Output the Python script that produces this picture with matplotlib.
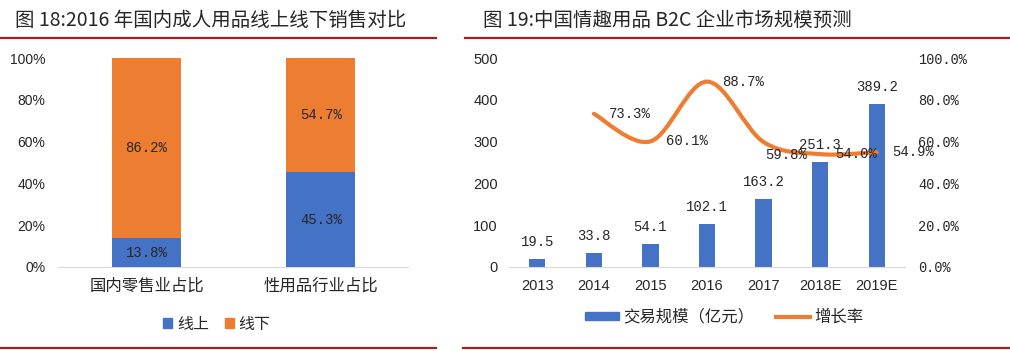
import matplotlib
matplotlib.use("Agg")
import matplotlib.pyplot as plt
from matplotlib.path import Path
from matplotlib.patches import PathPatch, Rectangle
from matplotlib.lines import Line2D
import numpy as np

# ---------------- data ----------------
title_left = "图 18:2016 年国内成人用品线上线下销售对比"
title_right = "图 19:中国情趣用品 B2C 企业市场规模预测"

left_categories = ["国内零售业占比", "性用品行业占比"]
online_share = [13.8, 45.3]
offline_share = [86.2, 54.7]
left_series_names = ["线上", "线下"]
left_yticks = [0, 20, 40, 60, 80, 100]

years = ["2013", "2014", "2015", "2016", "2017", "2018E", "2019E"]
market_size = [19.5, 33.8, 54.1, 102.1, 163.2, 251.3, 389.2]
growth_years_idx = [1, 2, 3, 4, 5, 6]
growth_rate = [73.3, 60.1, 88.7, 59.8, 54.0, 54.9]
right_series_names = ["交易规模（亿元）", "增长率"]
left_axis_ticks = [0, 100, 200, 300, 400, 500]
right_axis_ticks = [0, 20, 40, 60, 80, 100]

# label offsets (points) for growth labels, as placed in the reference
growth_label_offsets = [(11, 0), (11, 0), (11, 0), (1, -9.5), (11, 0), (11, 0)]

# ---------------- style ----------------
BLUE = "#4472C4"
ORANGE = "#ED7D31"
RED = "#A31F24"
TXT = "#262626"
CJK = ["Noto Sans CJK SC", "DejaVu Sans"]
MONO = ["Liberation Mono", "DejaVu Sans Mono"]
SANS = ["Liberation Sans", "DejaVu Sans"]

W, H = 1010, 351
fig = plt.figure(figsize=(W / 100, H / 100), dpi=100)
fig.patch.set_facecolor("white")


def px_axes(x0, y0, x1, y1):
    return fig.add_axes([x0 / W, 1 - y1 / H, (x1 - x0) / W, (y1 - y0) / H])


# header/footer red rules
for (xa, xb) in [(0, 436), (465, 1010)]:
    fig.add_artist(Line2D([xa / W, xb / W], [1 - 37.5 / H] * 2, color=RED, lw=1.6))
for (xa, xb) in [(0, 436), (463, 1010)]:
    fig.add_artist(Line2D([xa / W, xb / W], [1 - 348 / H] * 2, color=RED, lw=1.6))

fig.text(15 / W, 1 - 20 / H, title_left, family=CJK, fontsize=14, color=TXT, va="center", ha="left")
fig.text(483 / W, 1 - 20 / H, title_right, family=CJK, fontsize=14, color=TXT, va="center", ha="left")

# ---------------- left chart ----------------
ax = px_axes(58, 58, 408, 267)
x = np.arange(len(left_categories))
bw = 0.395
ax.bar(x, online_share, width=bw, color=BLUE, zorder=3)
ax.bar(x, offline_share, width=bw, bottom=online_share, color=ORANGE, zorder=3)
for i in range(len(x)):
    ax.text(x[i], online_share[i] / 2, f"{online_share[i]:.1f}%", ha="center", va="center",
            family=MONO, fontsize=10, color=TXT, zorder=4)
    ax.text(x[i], online_share[i] + offline_share[i] / 2, f"{offline_share[i]:.1f}%", ha="center",
            va="center", family=MONO, fontsize=10, color=TXT, zorder=4)
ax.set_xlim(-0.507, 1.499)
ax.set_ylim(0, 100)
ax.set_yticks(left_yticks)
ax.set_yticklabels([f"{v}%" for v in left_yticks], family=SANS, fontsize=10, color=TXT)
ax.set_xticks(x)
ax.set_xticklabels(left_categories, family=CJK, fontsize=11.8, color=TXT)
ax.tick_params(axis="y", length=0, pad=9)
ax.tick_params(axis="x", length=0, pad=8)
for s in ["top", "right", "left"]:
    ax.spines[s].set_visible(False)
ax.spines["bottom"].set_color("#D9D9D9")
handles = [Rectangle((0, 0), 1, 1, color=BLUE), Rectangle((0, 0), 1, 1, color=ORANGE)]
fig.legend(handles, left_series_names, loc="center", bbox_to_anchor=(217 / W, 1 - 324 / H),
           ncol=2, frameon=False, prop={"family": CJK, "size": 11.5}, handlelength=0.55,
           handleheight=0.55, handletextpad=0.3, columnspacing=1.0, labelcolor=TXT)

# ---------------- right chart ----------------
axr = px_axes(509, 58, 905, 267)
xr = np.arange(len(years))
axr.bar(xr, market_size, width=0.29, color=BLUE, zorder=2)
for i in range(len(xr)):
    axr.text(xr[i], market_size[i] + 24, f"{market_size[i]:.1f}", ha="center", va="bottom",
             family=MONO, fontsize=10, color=TXT, zorder=5)
axr.set_xlim(-0.5, len(years) - 0.5)
axr.set_ylim(0, 500)
axr.set_yticks(left_axis_ticks)
axr.set_yticklabels([str(v) for v in left_axis_ticks], family=SANS, fontsize=10.5, color=TXT)
axr.set_xticks(xr)
axr.set_xticklabels(years, family=SANS, fontsize=10.5, color=TXT)
axr.tick_params(axis="y", length=0, pad=8)
axr.tick_params(axis="x", length=0, pad=9)
for s in ["top", "right", "left"]:
    axr.spines[s].set_visible(False)
axr.spines["bottom"].set_color("#D9D9D9")

ax2 = axr.twinx()
ax2.set_ylim(0, 100)
ax2.set_yticks(right_axis_ticks)
ax2.set_yticklabels([f"{v:.1f}%" for v in right_axis_ticks], family=MONO, fontsize=9.8, color=TXT)
ax2.tick_params(axis="y", length=0, pad=9.5)
for s in ["top", "right", "left", "bottom"]:
    ax2.spines[s].set_visible(False)

# smoothed growth line (Catmull-Rom style Bezier through data points)
gx = np.array(growth_years_idx, dtype=float)
gy = np.array(growth_rate, dtype=float)
pts = np.column_stack([gx, gy])
verts = [tuple(pts[0])]
codes = [Path.MOVETO]
n = len(pts)
for i in range(n - 1):
    p0 = pts[i - 1] if i > 0 else pts[i]
    p1 = pts[i]
    p2 = pts[i + 1]
    p3 = pts[i + 2] if i + 2 < n else pts[i + 1]
    c1 = p1 + (p2 - p0) / 6.0
    c2 = p2 - (p3 - p1) / 6.0
    verts += [tuple(c1), tuple(c2), tuple(p2)]
    codes += [Path.CURVE4] * 3
ax2.add_patch(PathPatch(Path(verts, codes), facecolor="none", edgecolor=ORANGE, lw=3,
                        capstyle="round", joinstyle="round", zorder=3))
for (xi, yi), off in zip(zip(gx, gy), growth_label_offsets):
    ax2.annotate(f"{yi:.1f}%", (xi, yi), xytext=off, textcoords="offset points",
                 ha="left", va="center", family=MONO, fontsize=10, color=TXT, zorder=6)

h_bar = Rectangle((0, 0), 1, 1, color=BLUE)
h_line = Line2D([0], [0], color=ORANGE, lw=3)
fig.legend([h_bar, h_line], right_series_names, loc="center", bbox_to_anchor=(724 / W, 1 - 317 / H),
           ncol=2, frameon=False, prop={"family": CJK, "size": 11.8}, handlelength=2.1,
           handleheight=0.4, handletextpad=0.25, columnspacing=1.3, labelcolor=TXT)

fig.savefig("out.png", dpi=100, facecolor="white")
